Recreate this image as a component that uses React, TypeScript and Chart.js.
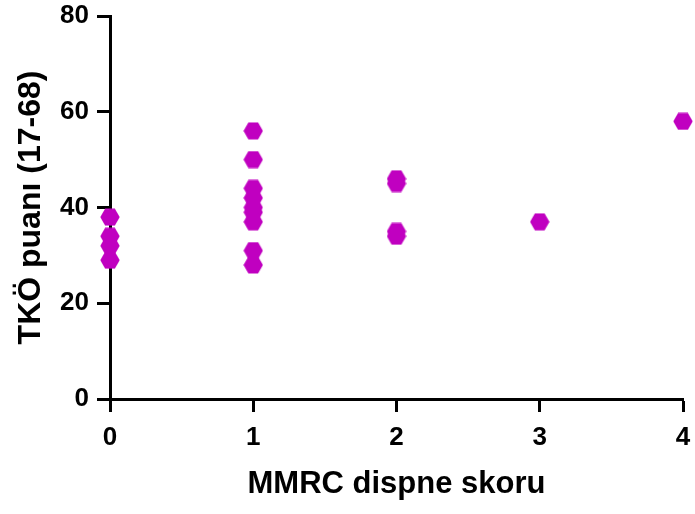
import React, { useEffect, useRef } from "react";
import { Chart, registerables } from "chart.js";

Chart.register(...registerables);

const xValues0 = [0, 0, 0, 0];
const yValues0 = [38, 34, 32, 29];
const xValues1 = [1, 1, 1, 1, 1, 1, 1, 1, 1];
const yValues1 = [56, 50, 44, 42, 40, 39, 37, 31, 28];
const xValues2 = [2, 2, 2, 2];
const yValues2 = [46, 45, 35, 34];
const xValues3 = [3];
const yValues3 = [37];
const xValues4 = [4];
const yValues4 = [58];

const xTicks = [0, 1, 2, 3, 4];
const yTicks = [0, 20, 40, 60, 80];
const xTitle = "MMRC dispne skoru";
const yTitle = "TKÖ puanı (17-68)";
const markerColor = "#C000C0";

function makeHexagon(): HTMLCanvasElement {
  const c = document.createElement("canvas");
  c.width = 20;
  c.height = 18;
  const ctx = c.getContext("2d")!;
  const r = 9.7;
  const cx = 10;
  const cy = 9;
  ctx.beginPath();
  for (let i = 0; i < 6; i++) {
    const a = (Math.PI / 3) * i;
    const px = cx + r * Math.cos(a);
    const py = cy + r * Math.sin(a);
    if (i === 0) ctx.moveTo(px, py);
    else ctx.lineTo(px, py);
  }
  ctx.closePath();
  ctx.fillStyle = markerColor;
  ctx.fill();
  return c;
}

export default function App() {
  const ref = useRef<HTMLCanvasElement | null>(null);

  useEffect(() => {
    if (!ref.current) return;
    const hex = makeHexagon();
    const xs = [...xValues0, ...xValues1, ...xValues2, ...xValues3, ...xValues4];
    const ys = [...yValues0, ...yValues1, ...yValues2, ...yValues3, ...yValues4];
    const points = xs.map((x, i) => ({ x, y: ys[i] }));
    const font = "'Liberation Sans', Arial, Helvetica, sans-serif";

    const chart = new Chart(ref.current, {
      type: "scatter",
      data: {
        datasets: [
          {
            data: points,
            pointStyle: hex as any,
            pointRadius: 9,
            backgroundColor: markerColor,
            borderColor: markerColor,
            clip: false as any,
          },
        ],
      },
      options: {
        animation: false,
        responsive: false,
        maintainAspectRatio: false,
        layout: { padding: { top: 16, right: 12, left: 0, bottom: 0 } },
        plugins: { legend: { display: false }, tooltip: { enabled: false } },
        scales: {
          x: {
            type: "linear",
            min: 0,
            max: 4,
            afterFit: (s: any) => {
              s.height = 115;
              s.paddingLeft = 0;
              s.paddingRight = 0;
            },
            afterBuildTicks: (s: any) => {
              s.ticks = xTicks.map((v) => ({ value: v }));
            },
            grid: {
              drawOnChartArea: false,
              drawTicks: true,
              tickLength: 13,
              tickWidth: 3,
              tickColor: "#000",
            },
            border: { display: true, width: 3, color: "#000" },
            ticks: {
              color: "#000",
              padding: 10,
              font: { family: font, size: 26, weight: "bold" },
            },
            title: {
              display: true,
              text: xTitle,
              color: "#000",
              font: { family: font, size: 31, weight: "bold" },
              padding: { top: 0, bottom: 11 },
            },
          },
          y: {
            type: "linear",
            min: 0,
            max: 80,
            afterFit: (s: any) => {
              s.width = 110;
              s.paddingTop = 0;
              s.paddingBottom = 0;
            },
            afterBuildTicks: (s: any) => {
              s.ticks = yTicks.map((v) => ({ value: v }));
            },
            grid: {
              drawOnChartArea: false,
              drawTicks: true,
              tickLength: 13,
              tickWidth: 3,
              tickColor: "#000",
            },
            border: { display: true, width: 3, color: "#000" },
            ticks: {
              color: "#000",
              padding: 8,
              font: { family: font, size: 26, weight: "bold" },
            },
            title: {
              display: true,
              text: yTitle,
              color: "#000",
              font: { family: font, size: 32, weight: "bold" },
              padding: { top: 12, bottom: 0 },
            },
          },
        },
      },
    });
    return () => chart.destroy();
  }, []);

  return (
    <div style={{ position: "fixed", left: 0, top: 0, width: 695, height: 514, background: "#fff" }}>
      <canvas ref={ref} width={695} height={514} style={{ width: 695, height: 514, display: "block" }} />
    </div>
  );
}
